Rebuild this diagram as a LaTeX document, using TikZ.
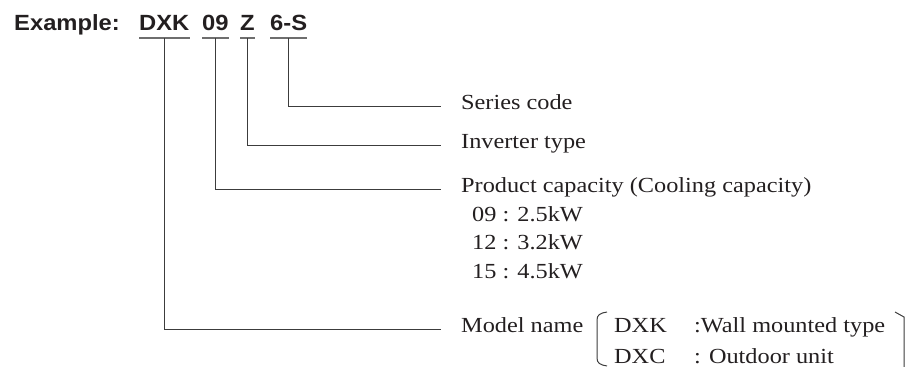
\documentclass[tikz,border=0pt]{standalone}
\usepackage{fontspec}
\setmainfont{Liberation Serif}[FakeStretch=1.13]
\newfontfamily\headfont{Liberation Sans}[FakeStretch=1.08]
\usepackage{xcolor}
\usepackage{tikz}
\definecolor{ink}{HTML}{231F20}
\definecolor{linegray}{HTML}{3C3C3C}
\definecolor{ulgray}{HTML}{6E6E6E}

\begin{document}
\begin{tikzpicture}[x=1pt, y=-1pt,
    hdr/.style={font=\headfont\bfseries\fontsize{22}{26}\selectfont, text=ink, inner sep=0pt, anchor=base west},
    code/.style={hdr, inner ysep=8pt},
    lbl/.style={font=\fontsize{21.5}{26}\selectfont, text=ink, inner xsep=20pt, inner ysep=0pt, anchor=base west},
    sub/.style={lbl, inner xsep=0pt},
    uline/.style={ulgray, line width=2pt},
    conn/.style={linegray, line width=1.3pt}]
        \useasboundingbox (0,0) rectangle (906,367);
        
        % Intestazione con il codice del modello
        \node[hdr] (ex) at (14,30) {Example:};
        \node[code] (dxk) at (139,30) {DXK};
        \node[code] (cap) at (202,30) {09};
        \node[code] (inv) at (240,30) {Z};
        \node[code] (ser) at (270,30) {6-S};
        
        % Sottolineature dei campi
        \foreach \n in {dxk,cap,inv,ser} {
            \draw[uline] (\n.south west) -- (\n.south east);
        }
        
        % Voci della legenda
        \node[lbl] (series) at (441,109) {Series code};
        \node[lbl] (invtype) at (441,148) {Inverter type};
        \node[lbl] (prodcap) at (441,192) {Product capacity (Cooling capacity)};
        \foreach \c/\p/\y in {09/2.5/221, 12/3.2/249, 15/4.5/278} {
            \node[sub] (cap\c) at (472,\y) {\c\ : \p kW};
        }
        \node[lbl] (model) at (441,332) {Model name};
        
        % Tabella dei nomi di modello tra parentesi
        \node[sub] (nk) at (614,332) {DXK};
        \node[sub] (dk) at (694,332) {:Wall mounted type};
        \node[sub] (nc) at (614,363) {DXC};
        \node[sub] (dc) at (694,363) {: Outdoor unit};
        \draw[conn, line width=1pt] (607,312) .. controls (600,313) and (597,315) .. (597,320)
            -- (597,358) .. controls (597,363) and (600,365) .. (607,366);
        \draw[conn, line width=1pt] (895,312) -- (904,317) -- (904,367);
        
        % Linee di collegamento
        \draw[conn] (ser.south) |- (series.mid west);
        \draw[conn] (inv.south) |- (invtype.mid west);
        \draw[conn] (cap.south) |- (prodcap.mid west);
        \draw[conn] (dxk.south) |- (model.mid west);
        
\end{tikzpicture}
\end{document}
